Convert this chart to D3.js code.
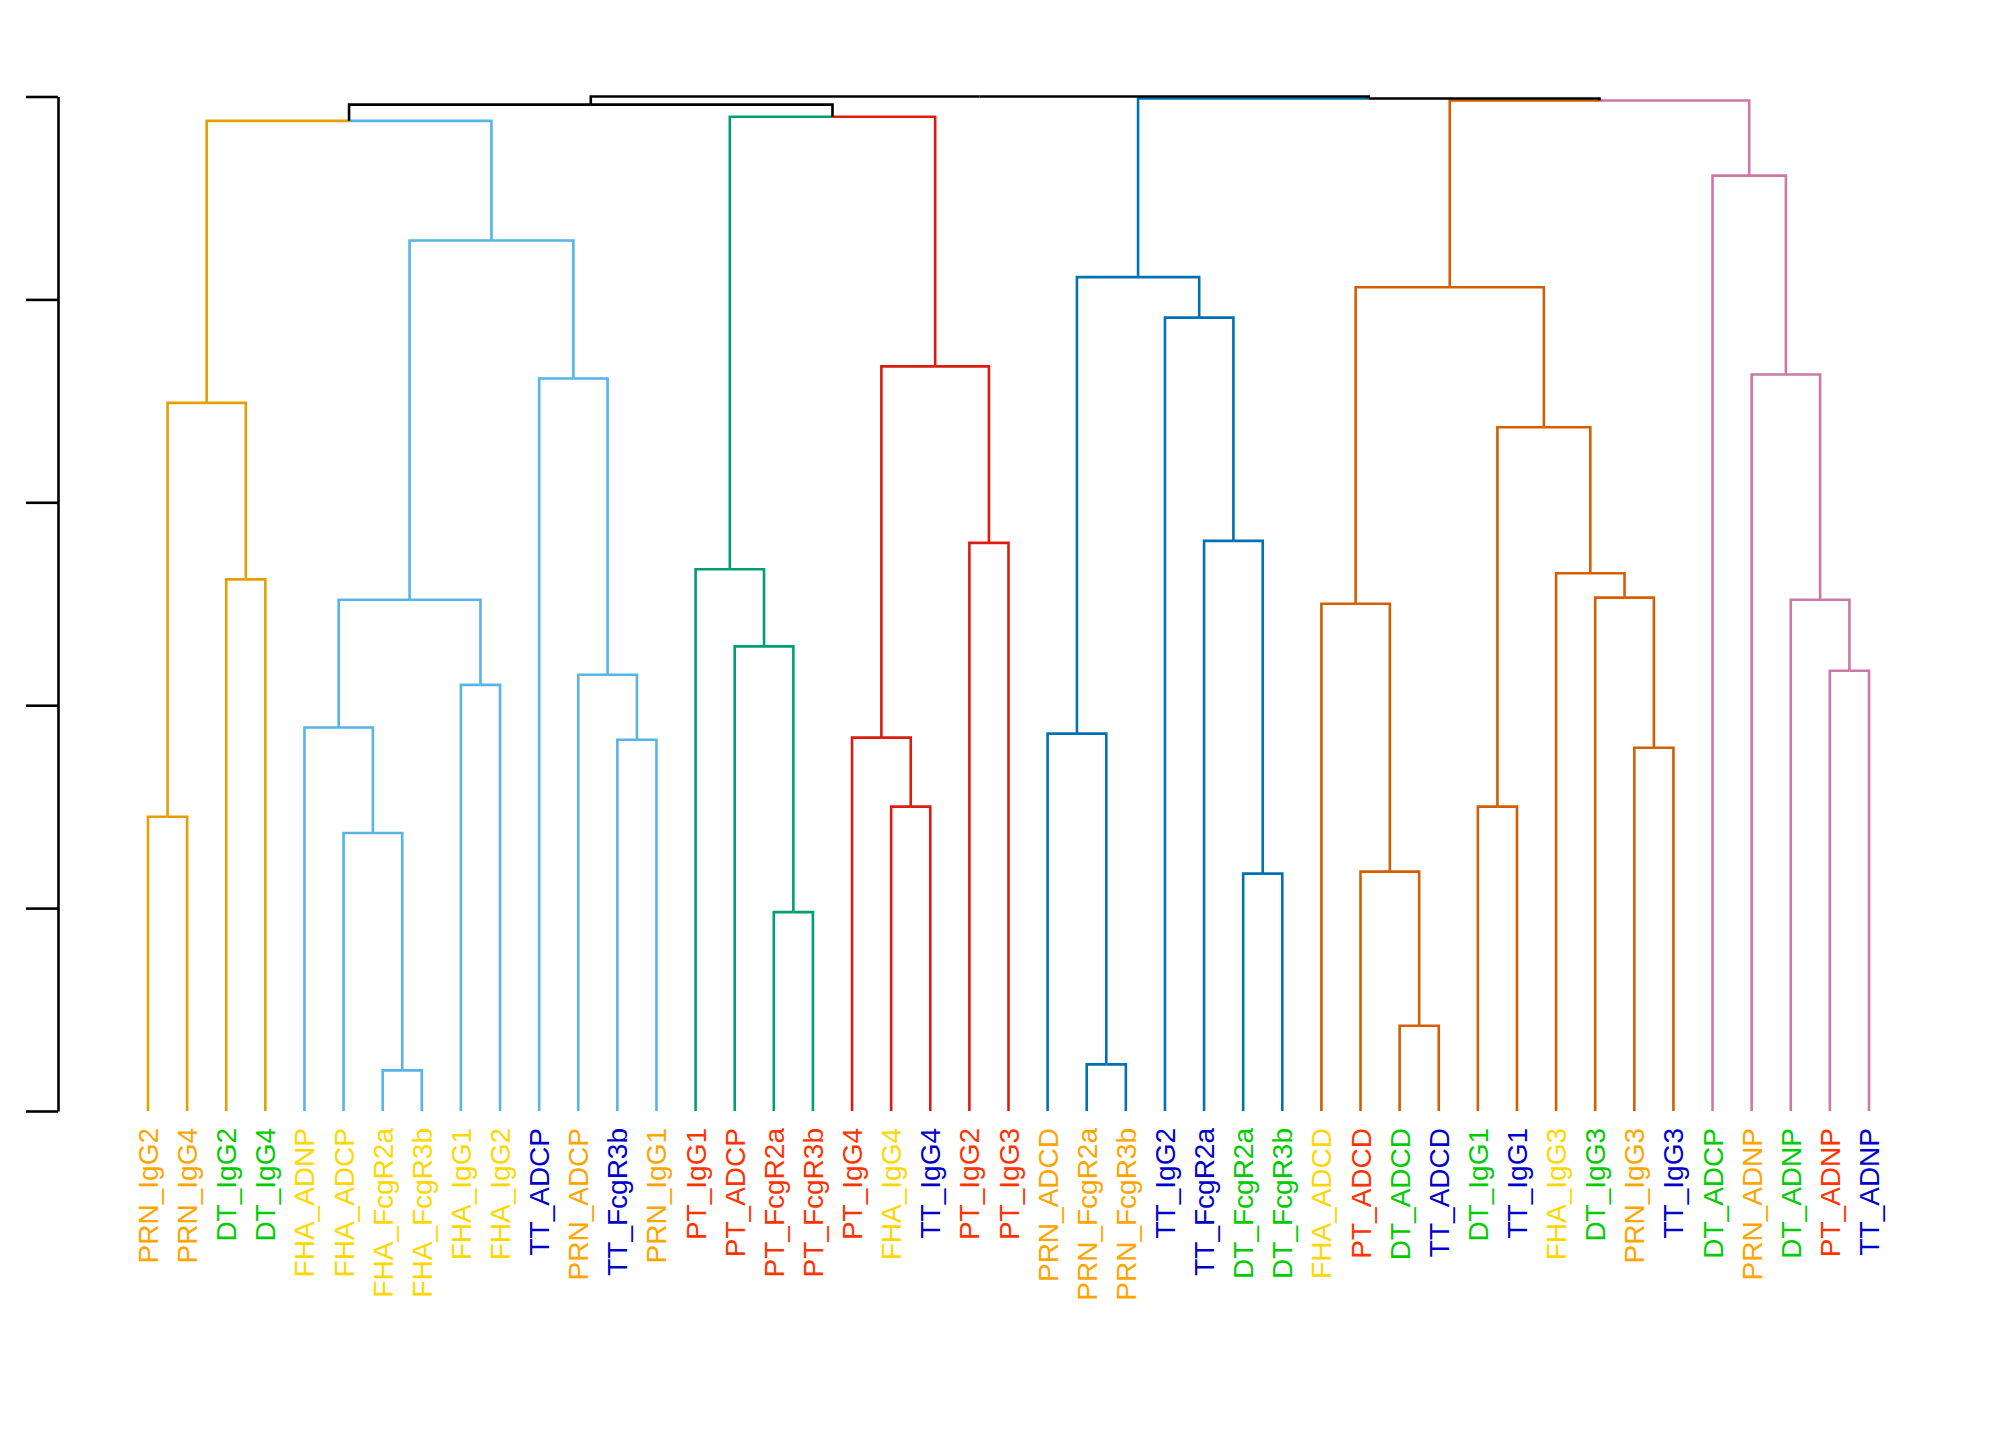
<!DOCTYPE html>
<html lang="en">
<head>
<meta charset="UTF-8">
<title>Dendrogram</title>
<script src="https://d3js.org/d3.v7.min.js"></script>
<style>
  body { margin: 0; background: white; }
  svg { display: block; font-family: "Liberation Sans", Arial, sans-serif; }
</style>
</head>
<body>
<svg id="chart" width="2016" height="1440"></svg>
<script>
// leaves in plotted order
const leaves = ["PRN_IgG2","PRN_IgG4","DT_IgG2","DT_IgG4","FHA_ADNP","FHA_ADCP","FHA_FcgR2a","FHA_FcgR3b",
  "FHA_IgG1","FHA_IgG2","TT_ADCP","PRN_ADCP","TT_FcgR3b","PRN_IgG1","PT_IgG1","PT_ADCP","PT_FcgR2a","PT_FcgR3b",
  "PT_IgG4","FHA_IgG4","TT_IgG4","PT_IgG2","PT_IgG3","PRN_ADCD","PRN_FcgR2a","PRN_FcgR3b","TT_IgG2","TT_FcgR2a",
  "DT_FcgR2a","DT_FcgR3b","FHA_ADCD","PT_ADCD","DT_ADCD","TT_ADCD","DT_IgG1","TT_IgG1","FHA_IgG3","DT_IgG3",
  "PRN_IgG3","TT_IgG3","DT_ADCP","PRN_ADNP","DT_ADNP","PT_ADNP","TT_ADNP"];
// cluster of each leaf
const leafCluster = [0,0,0,0,1,1,1,1,1,1,1,1,1,1,2,2,2,2,3,3,3,3,3,4,4,4,4,4,4,4,
  5,5,5,5,5,5,5,5,5,5,6,6,6,6,6];
const clusterColors = ["#E69F00","#56B4E9","#009E73","#DD1C10","#0072B2","#D55E00","#CC79A7"];
const antigenColors = { PRN: "#FFA500", DT: "#00CC00", FHA: "#FFD700", TT: "#0000CD", PT: "#FF3300" };

// merges: [left, right, height]; negative = leaf index -(i+1), positive = merge number (1-based)
const merges = [
  [-1, -2, 1.45],   // 1
  [-3, -4, 2.62],   // 2
  [1, 2, 3.49],     // 3
  [-7, -8, 0.20],   // 4
  [-6, 4, 1.37],    // 5
  [-5, 5, 1.89],    // 6
  [-9, -10, 2.10],  // 7
  [6, 7, 2.52],     // 8
  [-13, -14, 1.83], // 9
  [-12, 9, 2.15],   // 10
  [-11, 10, 3.61],  // 11
  [8, 11, 4.29],    // 12
  [3, 12, 4.88],    // 13
  [-17, -18, 0.98], // 14
  [-16, 14, 2.29],  // 15
  [-15, 15, 2.67],  // 16
  [-20, -21, 1.50], // 17
  [-19, 17, 1.84],  // 18
  [-22, -23, 2.80], // 19
  [18, 19, 3.67],   // 20
  [16, 20, 4.90],   // 21
  [13, 21, 4.96],   // 22
  [-25, -26, 0.23], // 23
  [-24, 23, 1.86],  // 24
  [-29, -30, 1.17], // 25
  [-28, 25, 2.81],  // 26
  [-27, 26, 3.91],  // 27
  [24, 27, 4.11],   // 28
  [-33, -34, 0.42], // 29
  [-32, 29, 1.18],  // 30
  [-31, 30, 2.50],  // 31
  [-35, -36, 1.50], // 32
  [-39, -40, 1.79], // 33
  [-38, 33, 2.53],  // 34
  [-37, 34, 2.65],  // 35
  [32, 35, 3.37],   // 36
  [31, 36, 4.06],   // 37
  [-44, -45, 2.17], // 38
  [-43, 38, 2.52],  // 39
  [-42, 39, 3.63],  // 40
  [-41, 40, 4.61],  // 41
  [37, 41, 4.98],   // 42
  [28, 42, 4.99],   // 43
  [22, 43, 5.00]    // 44
];
const yTicks = [0, 1, 2, 3, 4, 5];

const svg = d3.select("#chart");
const x = d3.scaleLinear().domain([0, leaves.length - 1]).range([148, 1869]);
const y = d3.scaleLinear().domain([0, 5]).range([1111, 96.5]);

// position / height / color of each node
const info = ref => {
  if (ref < 0) {
    const i = -ref - 1;
    return { x: x(i), h: 0, c: leafCluster[i] };
  }
  return nodes[ref - 1];
};
const nodes = [];
merges.forEach(([a, b, h]) => {
  const A = info(a), B = info(b);
  nodes.push({ x: (A.x + B.x) / 2, h: h, c: (A.c === B.c && A.c !== -1) ? A.c : -1, a: A, b: B });
});

const g = svg.append("g").attr("fill", "none").attr("stroke-width", 2.6);
const col = c => c === -1 ? "#000" : clusterColors[c];
nodes.forEach(n => {
  [n.a, n.b].forEach(ch => {
    g.append("path")
      .attr("stroke", col(ch.c))
      .attr("d", `M${ch.x},${y(ch.h)}V${y(n.h)}H${n.x}`);
  });
});

// axis
const axis = d3.axisLeft(y).tickValues(yTicks).tickFormat("").tickSize(32).tickSizeOuter(0);
const ax = svg.append("g").attr("transform", "translate(58,0)").call(axis);
ax.selectAll("path, line").attr("stroke", "#000").attr("stroke-width", 2.6);

// labels
svg.append("g").selectAll("text").data(leaves).enter().append("text")
  .attr("transform", (d, i) => `translate(${x(i) + 10},1128) rotate(-90)`)
  .attr("text-anchor", "end")
  .attr("font-size", 28)
  .attr("fill", d => antigenColors[d.split("_")[0]])
  .text(d => d);
</script>
</body>
</html>
